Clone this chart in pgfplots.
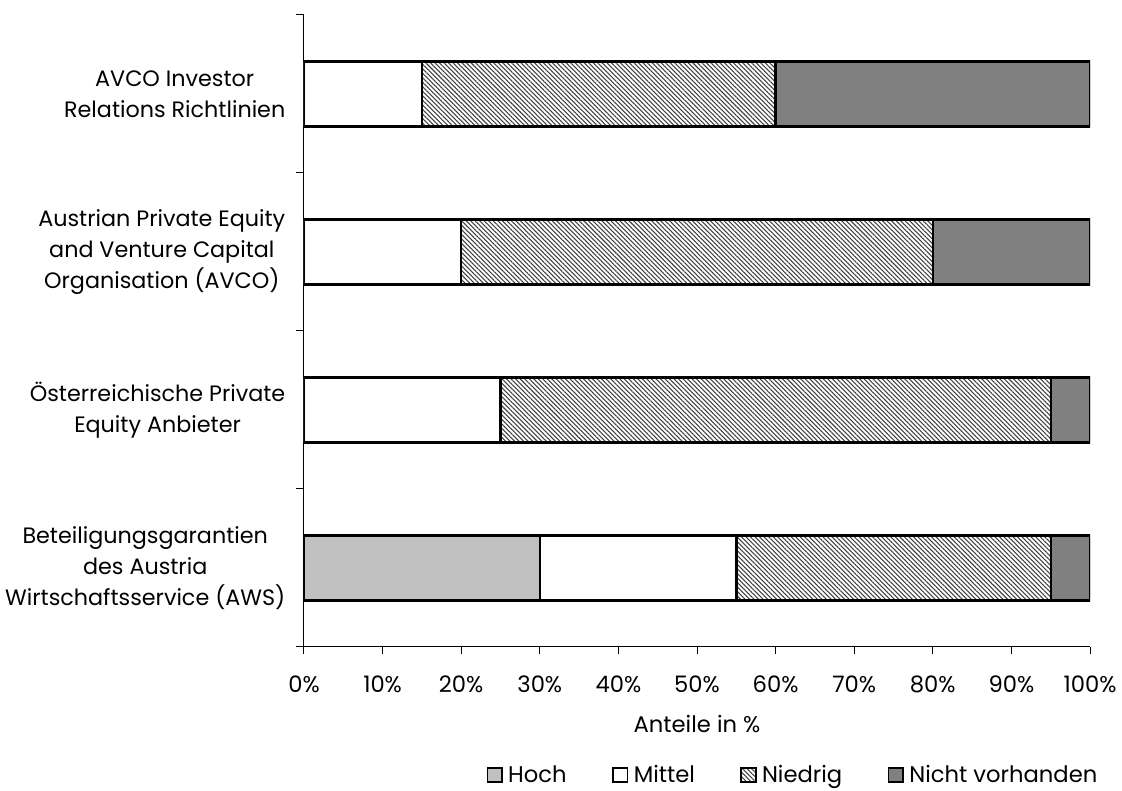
\documentclass[border=0pt]{standalone}
\usepackage{fontspec}
\setmainfont{Poppins}
\usepackage{pgfplots}
\pgfplotsset{compat=1.18}
\usetikzlibrary{patterns.meta}
\definecolor{hoch}{RGB}{192,192,192}
\definecolor{nicht}{RGB}{128,128,128}
\begin{document}
\begin{tikzpicture}[x=1pt,y=1pt]
\useasboundingbox (0,0) rectangle (841.5,593.25);
\begin{axis}[
  at={(228pt,108pt)}, anchor=south west,
  scale only axis, width=589.5pt, height=474pt,
  xbar stacked, bar width=48.75pt,
  xmin=0, xmax=100, ymin=-0.5, ymax=3.5,
  axis x line*=bottom, axis y line*=left,
  axis line style={line width=0.75pt, black},
  xtick={0,10,...,100},
  xticklabels={0\%,10\%,20\%,30\%,40\%,50\%,60\%,70\%,80\%,90\%,100\%},
  ytick={0,1,2,3},
  yticklabels={{Beteiligungsgarantien\\des Austria\\Wirtschaftsservice (AWS)},
               {Österreichische Private\\Equity Anbieter},
               {Austrian Private Equity\\and Venture Capital\\Organisation (AVCO)},
               {AVCO Investor\\Relations Richtlinien}},
  minor ytick={-0.5,0.5,1.5,2.5,3.5},
  tick align=outside,
  major tick length=5pt,
  minor tick length=6pt,
  major y tick style={draw=none},
  tick style={black, line width=0.75pt},
  xticklabel style={font=\fontsize{17}{20}\selectfont, anchor=north, yshift=-13pt},
  yticklabel style={font=\fontsize{16.7}{23.5}\selectfont, align=center, anchor=east, xshift=-5.5pt},
  xlabel={Anteile in \%},
  xlabel style={font=\fontsize{17}{20}\selectfont, at={(axis description cs:0.5,0)}, anchor=center, yshift=-57.75pt},
  legend columns=4,
  legend style={draw=none, fill=none, inner sep=0pt, outer sep=0pt,
    font=\fontsize{17}{20}\selectfont,
    at={(axis description cs:1,0)}, anchor=east, xshift=7.5pt, yshift=-96pt,
    /tikz/every odd column/.style={column sep=2pt},
    /tikz/every even column/.style={column sep=32pt}},
  legend image code/.code={\draw[#1, line width=1.3pt] (0pt,-5.5pt) rectangle (11pt,5.5pt);},
]
\addplot[fill=hoch, draw=black, line width=1.8pt] coordinates {(30,0) (0,1) (0,2) (0,3)};
\addplot[fill=white, draw=black, line width=1.8pt] coordinates {(25,0) (25,1) (20,2) (15,3)};
\addplot[pattern={Lines[angle=-45, distance=2.4pt, line width=0.8pt]}, pattern color=black!75, draw=black, line width=1.8pt] coordinates {(40,0) (70,1) (60,2) (45,3)};
\addplot[fill=nicht, draw=black, line width=1.8pt] coordinates {(5,0) (5,1) (20,2) (40,3)};
\legend{Hoch, Mittel, Niedrig, Nicht vorhanden}
\end{axis}
\end{tikzpicture}
\end{document}
